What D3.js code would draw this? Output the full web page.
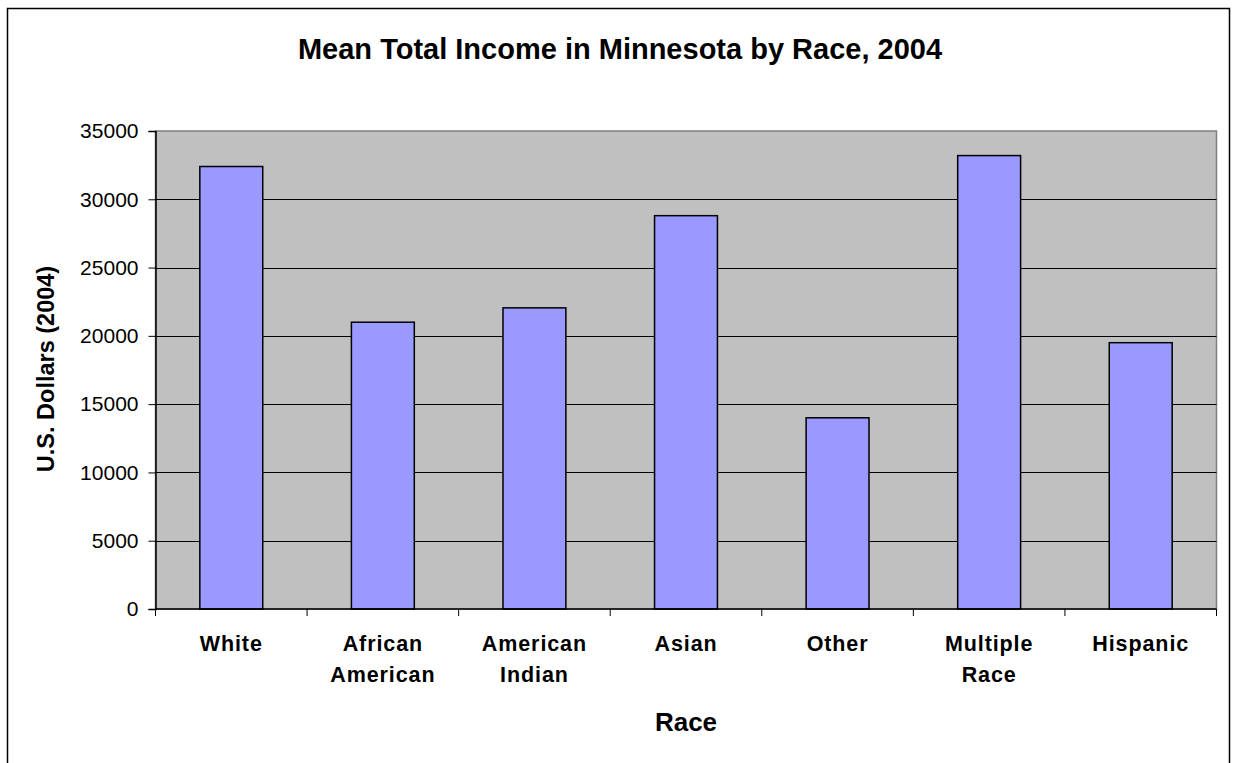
<!DOCTYPE html>
<html>
<head>
<meta charset="utf-8">
<script src="https://cdn.jsdelivr.net/npm/d3@7"></script>
<style>
  body { margin: 0; background: #fff; }
  text { font-family: "Liberation Sans", Arial, sans-serif; }
</style>
</head>
<body>
<svg width="1235" height="763"></svg>
<script>
const categories = ['White', 'African American', 'American Indian', 'Asian', 'Other', 'Multiple Race', 'Hispanic'];
const labelLines = [['White'], ['African', 'American'], ['American', 'Indian'], ['Asian'], ['Other'], ['Multiple', 'Race'], ['Hispanic']];
const income = [32400, 21000, 22050, 28800, 14000, 33200, 19500];
const yTicks = [0, 5000, 10000, 15000, 20000, 25000, 30000, 35000];

const svg = d3.select('svg');

// outer chart frame
svg.append('rect')
  .attr('x', 7.5).attr('y', 8.5)
  .attr('width', 1222).attr('height', 760)
  .attr('fill', '#fff')
  .attr('stroke', '#000')
  .attr('stroke-width', 1.5);

const plotLeft = 155.5, plotRight = 1216.5, plotTop = 131, plotBottom = 609;

const x = d3.scaleBand()
  .domain(categories)
  .range([plotLeft, plotRight])
  .paddingInner(0.585)
  .paddingOuter(0.2925);

const xBand = d3.scaleBand()
  .domain(categories)
  .range([plotLeft, plotRight]);

const y = d3.scaleLinear()
  .domain([0, 35000])
  .range([plotBottom, plotTop]);

// plot area
svg.append('rect')
  .attr('x', plotLeft).attr('y', plotTop)
  .attr('width', plotRight - plotLeft).attr('height', plotBottom - plotTop)
  .attr('fill', '#c0c0c0')
  .attr('stroke', '#808080')
  .attr('stroke-width', 1.5);

// gridlines
svg.append('g')
  .selectAll('line')
  .data(yTicks.slice(1, -1))
  .join('line')
    .attr('x1', plotLeft).attr('x2', plotRight)
    .attr('y1', d => Math.round(y(d)) + 0.5)
    .attr('y2', d => Math.round(y(d)) + 0.5)
    .attr('stroke', '#000')
    .attr('stroke-width', 1);

// bars
svg.append('g')
  .selectAll('rect')
  .data(categories)
  .join('rect')
    .attr('x', d => x(d))
    .attr('y', (d, i) => y(income[i]))
    .attr('width', x.bandwidth())
    .attr('height', (d, i) => plotBottom - y(income[i]))
    .attr('fill', '#9999ff')
    .attr('stroke', '#000')
    .attr('stroke-width', 1.5);

// y axis
const yAxis = svg.append('g')
  .attr('transform', `translate(${plotLeft},0)`)
  .call(d3.axisLeft(y).tickValues(yTicks).tickSize(7).tickPadding(10).tickFormat(d3.format('d')));
yAxis.select('.domain').attr('stroke', '#000').attr('stroke-width', 1.5);
yAxis.selectAll('.tick line').attr('stroke', '#000');
yAxis.selectAll('.tick text')
  .attr('font-size', 21)
  .attr('fill', '#000')
  .style('font-family', '"Liberation Sans", Arial, sans-serif');

// x axis baseline and boundary ticks
svg.append('line')
  .attr('x1', plotLeft).attr('x2', plotRight)
  .attr('y1', plotBottom).attr('y2', plotBottom)
  .attr('stroke', '#000').attr('stroke-width', 1.5);

const boundaries = categories.map(c => xBand(c)).concat([plotRight]);
svg.append('g')
  .selectAll('line')
  .data(boundaries)
  .join('line')
    .attr('x1', d => d).attr('x2', d => d)
    .attr('y1', plotBottom).attr('y2', plotBottom + 7)
    .attr('stroke', '#000');

// category labels
const xLabels = svg.append('g')
  .selectAll('text')
  .data(categories)
  .join('text')
    .attr('x', d => xBand(d) + xBand.bandwidth() / 2)
    .attr('y', 651)
    .attr('text-anchor', 'middle')
    .attr('font-size', 21.5)
    .attr('font-weight', 'bold')
    .attr('letter-spacing', 0.9);
xLabels.selectAll('tspan')
  .data((d, i) => labelLines[i])
  .join('tspan')
    .attr('x', function () { return d3.select(this.parentNode).attr('x'); })
    .attr('dy', (d, i) => i === 0 ? 0 : 31)
    .text(d => d);

// title
svg.append('text')
  .attr('x', 620).attr('y', 59)
  .attr('text-anchor', 'middle')
  .attr('font-size', 29)
  .attr('font-weight', 'bold')
  .text('Mean Total Income in Minnesota by Race, 2004');

// axis titles
svg.append('text')
  .attr('x', 686).attr('y', 731)
  .attr('text-anchor', 'middle')
  .attr('font-size', 26)
  .attr('font-weight', 'bold')
  .text('Race');

svg.append('text')
  .attr('transform', 'translate(54,369) rotate(-90)')
  .attr('text-anchor', 'middle')
  .attr('font-size', 23.5)
  .attr('font-weight', 'bold')
  .text('U.S. Dollars (2004)');
</script>
</body>
</html>
